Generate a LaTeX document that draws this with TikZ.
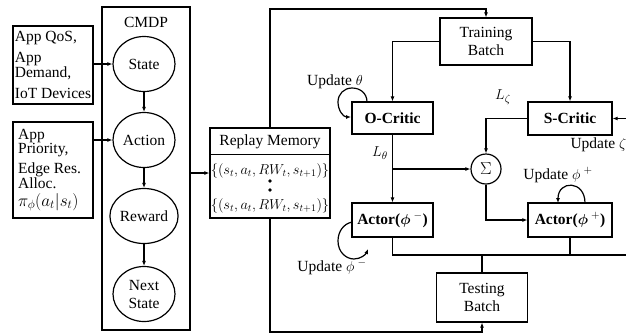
\documentclass[tikz,border=0pt]{standalone}
\usepackage{bm}
\usepackage{fontspec}
\setmainfont{Liberation Serif}
\usetikzlibrary{arrows.meta,shapes.geometric}

\begin{document}
\begin{tikzpicture}[x=1pt,y=-1pt,
  line width=1.2pt,
  font=\fontsize{15.5}{17}\selectfont,
  box/.style={draw, rectangle, inner sep=0pt, align=center},
  oval/.style={draw, ellipse, minimum width=62pt, minimum height=55pt,
    inner sep=0pt, align=center, font=\fontsize{15.5}{18}\selectfont},
  inbox/.style={draw, rectangle, minimum width=80pt, inner sep=1.5pt,
    align=left, font=\fontsize{15.5}{14}\selectfont},
  arr/.style={-{Latex[length=5pt,width=4pt]}},
  lbl/.style={inner sep=0pt},
  tuple/.style={inner sep=0pt, font=\fontsize{14}{14}\selectfont},
  ]
\useasboundingbox (0,0) rectangle (626,333);

% ---- inputs to the CMDP ----
\node[inbox, minimum height=78pt] (in1) at (53,65)
  {App QoS,\\[7pt]App\\Demand,\\[7pt]IoT Devices\hspace*{\fill}};
\node[inbox, minimum height=96pt] (in2) at (53,170)
  {App\hspace*{43pt}\\Priority,\\[5pt]Edge Res.\\Alloc.\\[4pt]%
   {\fontsize{17.5}{17}\selectfont$\pi_\phi(a_t|s_t)$}};

% ---- CMDP column ----
\node[box, minimum width=88pt, minimum height=323pt] (cmdp) at (146,168.5) {};
\node[lbl] (cmdpT) at (146,22) {CMDP};
\node[oval] (st) at (144,64) {State};
\node[oval] (ac) at (144,140) {Action};
\node[oval] (rw) at (144,216) {Reward};
\node[oval] (ns) at (144,294) {Next\\State};

\draw[arr] (in1.east |- st.west) -- (st.west);
\draw[arr] (in2.east |- ac.west) -- (ac.west);
\draw[arr] (st) -- (ac);
\draw[arr] (ac) -- (rw);
\draw[arr] (rw) -- (ns);

% ---- replay memory ----
\node[box, minimum width=120pt, minimum height=90pt] (rm) at (270,173) {};
\draw ([yshift=-27pt]rm.north west) -- ([yshift=-27pt]rm.north east);
\node[lbl] (rmT) at (270,141.5) {Replay Memory};
\node[tuple] (rm1) at (270,171) {$\{(s_t,a_t,RW_t,s_{t+1})\}$};
\fill (270,181) circle (1.8pt);
\fill (270,190) circle (1.8pt);
\node[tuple] (rm2) at (270,206) {$\{(s_t,a_t,RW_t,s_{t+1})\}$};
\draw[arr] (cmdp.east |- rm.west) -- (rm.west);

% ---- learning blocks ----
\node[box, minimum width=92pt, minimum height=47pt, font=\fontsize{15.5}{18}\selectfont]
  (tb) at (486,41.5) {Training\\Batch};
\node[box, minimum width=81pt, minimum height=32pt, font=\fontsize{15.5}{17}\selectfont\bfseries]
  (oc) at (392.5,118) {O-Critic};
\node[box, minimum width=84pt, minimum height=33pt, font=\fontsize{15.5}{17}\selectfont\bfseries]
  (sc) at (570,118.5) {S-Critic};
\node[draw, circle, minimum size=30pt, inner sep=0pt, font=\fontsize{18}{18}\selectfont]
  (sum) at (486,169) {$\Sigma$};
\node[box, minimum width=81pt, minimum height=34pt, font=\fontsize{15.5}{17}\selectfont\bfseries]
  (am) at (392.5,220) {Actor($\bm{\phi}^{\;-}$)};
\node[box, minimum width=84pt, minimum height=34pt, font=\fontsize{15.5}{17}\selectfont\bfseries]
  (ap) at (570,220) {Actor($\bm{\phi}^{\;+}$)};
\node[box, minimum width=91pt, minimum height=49pt, font=\fontsize{15.5}{18}\selectfont]
  (tsb) at (482,297.5) {Testing\\Batch};

% ---- routing ----
\coordinate (topc) at (486,9);
\coordinate (botc) at (482,332);
\coordinate (redge) at (626,118.5);
\coordinate (br) at (392.5,169);
\coordinate (bl) at (392.5,255);
\coordinate (bre) at (626,255);

\draw[arr] (rm.north) |- (topc) -- (tb.north);
\draw[arr] (rm.south) |- (botc) -- (tsb.south);
\draw[arr] (tb.west) -| (oc.north);
\draw[arr] (tb.east) -| (sc.north);
\draw[arr] (redge) -- (sc.east);
\draw[arr] (sc.west) -| (sum.north);
\draw[arr] (oc.south) -- (am.north);
\draw[arr] (br) -- (sum.west);
\draw[arr] (sum.south) |- (ap.west);
\draw (am.south) -- (bl) -- (bre);
\draw (ap.south) -- (ap.south |- bl);
\draw (tsb.north |- bl) -- (tsb.north);

% ---- self-update loops ----
\draw[arr] (367,102) .. controls (367,93) and (360,88) .. (352,88)
  .. controls (344,88) and (338,94) .. (338,102)
  .. controls (338,110) and (343,117) .. (351,117);
\draw[arr] (352,222) .. controls (343,224) and (338,232) .. (338,241)
  .. controls (338,252) and (346,259) .. (354,259)
  .. controls (361,259) and (366,254) .. (368,249);
\draw[arr] (585,203) .. controls (585,180) and (558,180) .. (558,203);

% ---- labels ----
\node[lbl] (uth) at (335,82) {Update $\theta$};
\node[lbl] (uphm) at (332,267) {Update $\phi^{\;-}$};
\node[lbl] (uphp) at (558,175) {Update $\phi^{\;+}$};
\node[lbl, anchor=east] (uz) at (627,145) {Update $\zeta$};
\node[lbl] (lth) at (380,153) {$L_\theta$};
\node[lbl] (lz) at (503,97) {$L_\zeta$};
\end{tikzpicture}
\end{document}
